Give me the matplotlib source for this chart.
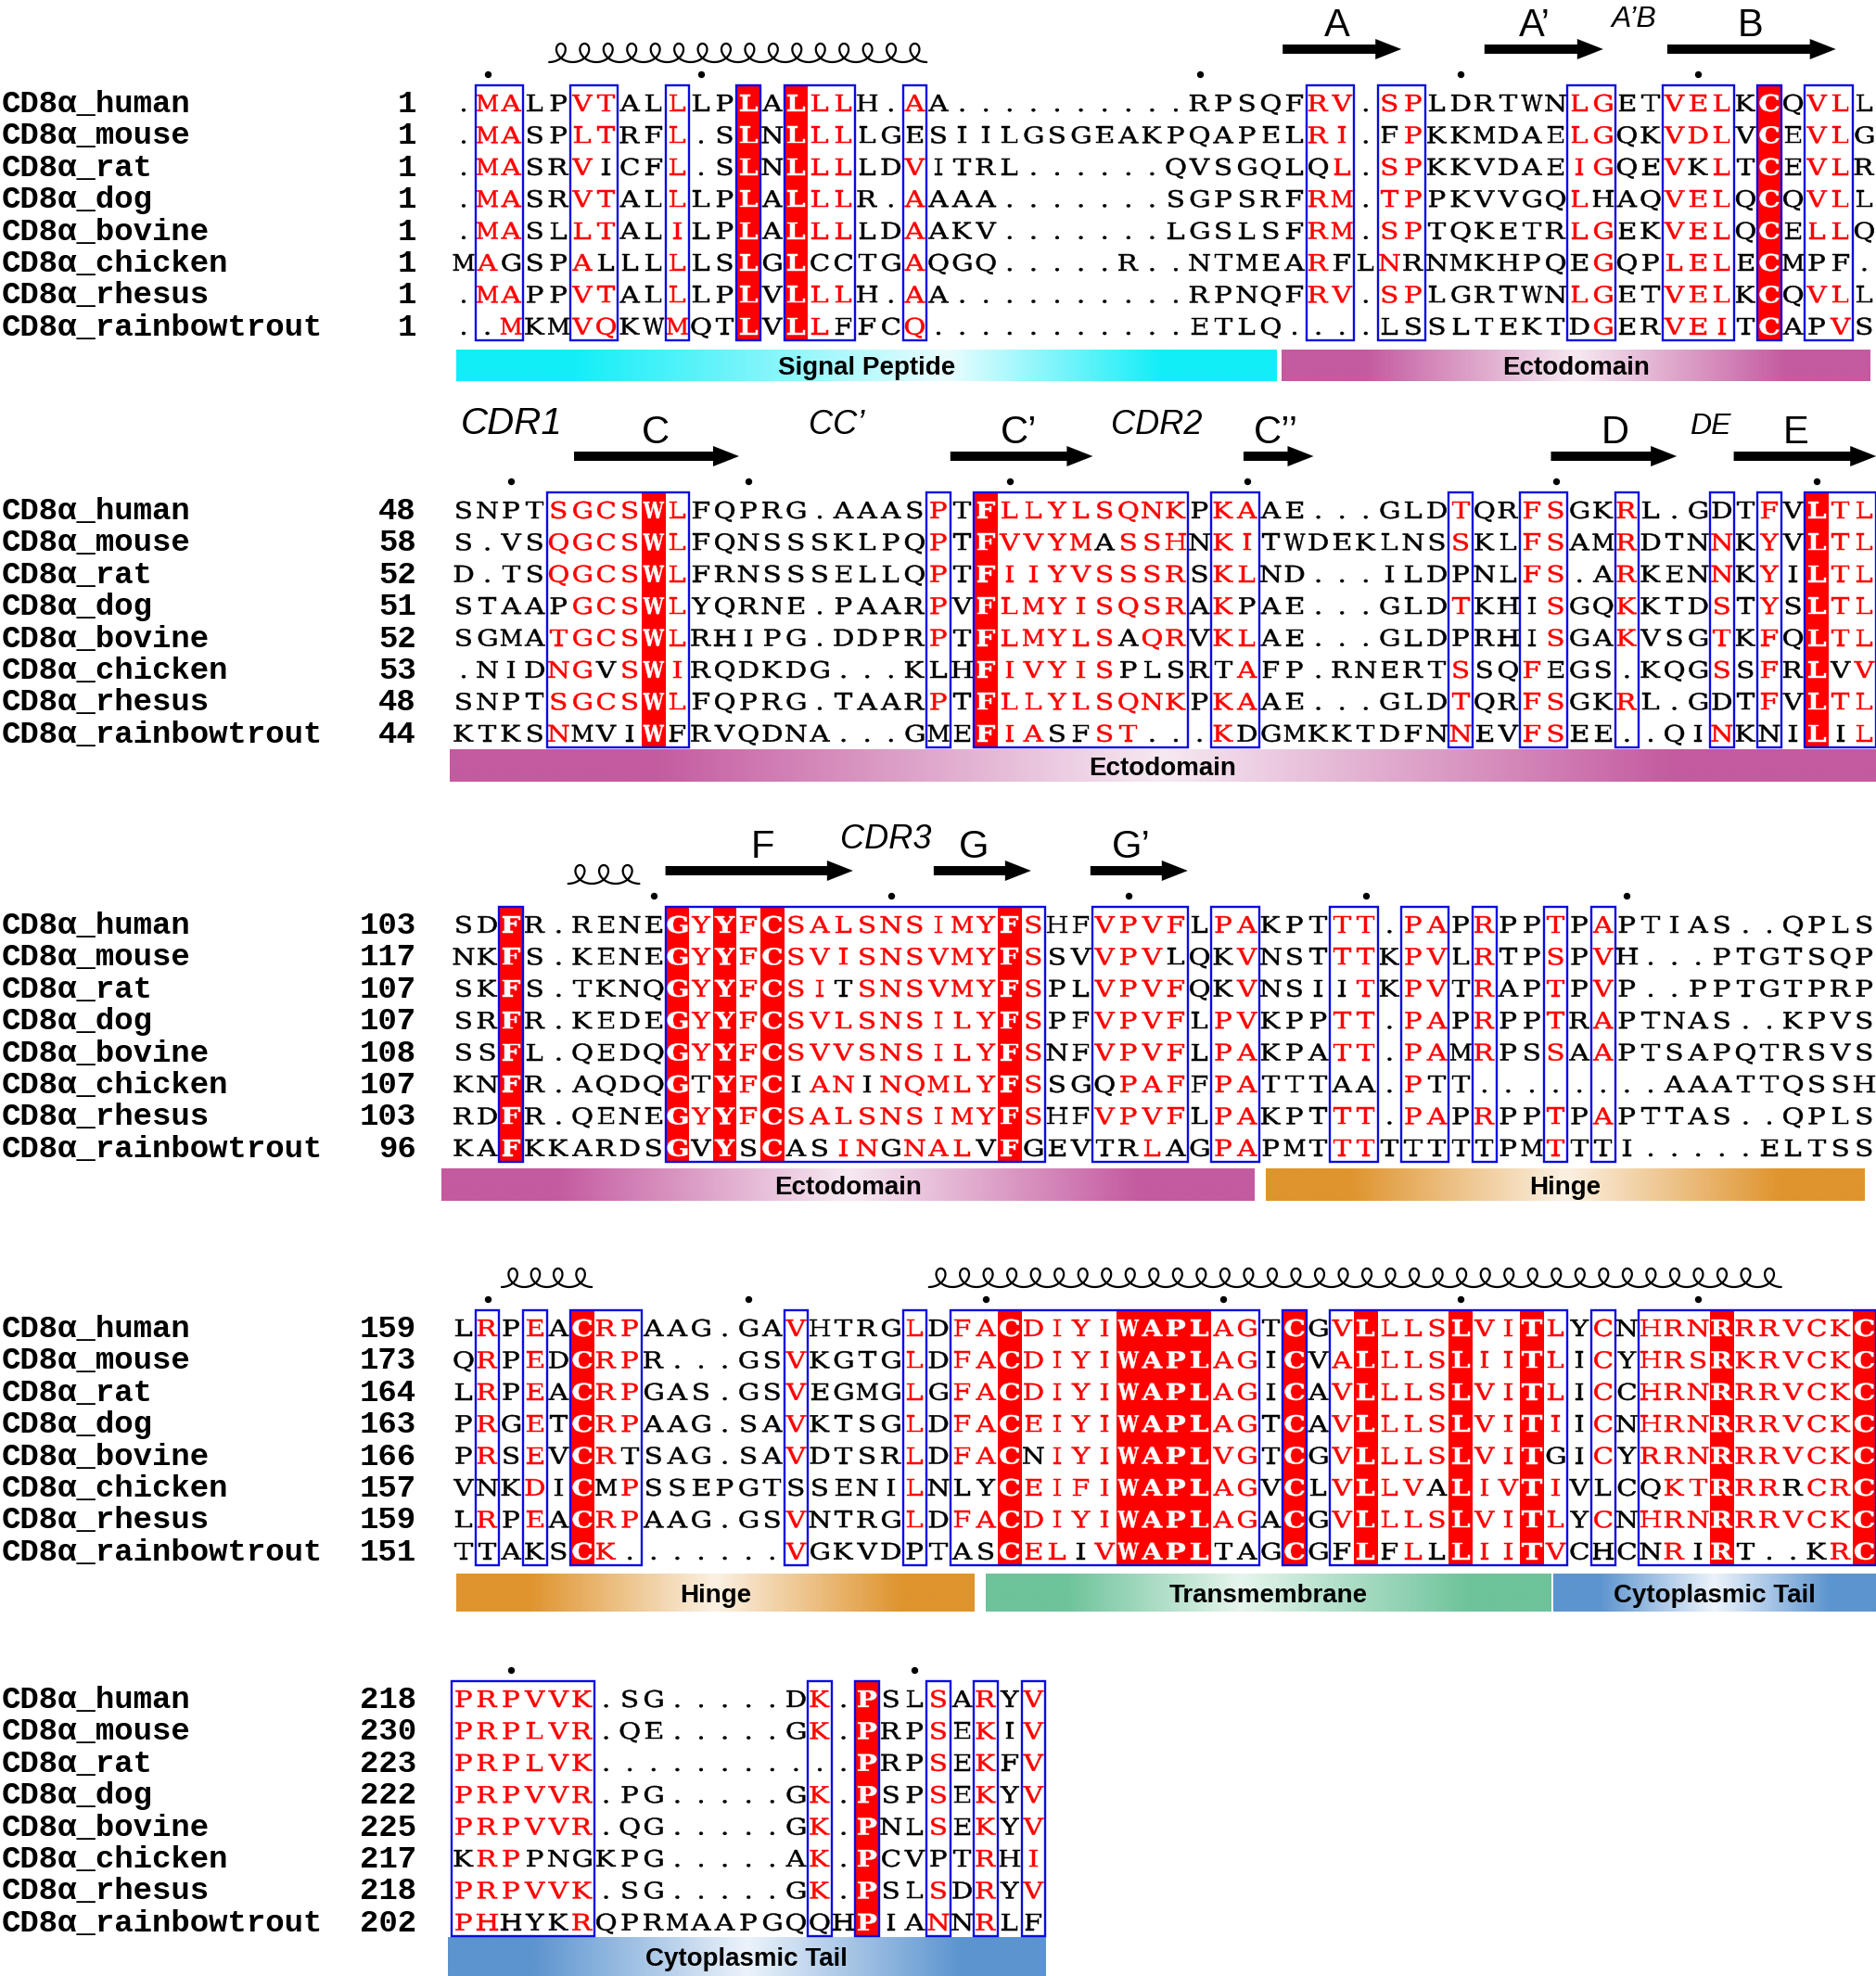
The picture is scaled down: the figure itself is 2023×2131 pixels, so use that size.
import numpy as np
import matplotlib
matplotlib.use("Agg")
import matplotlib.pyplot as plt
from matplotlib.patches import Rectangle, Polygon, PathPatch
from matplotlib.colors import to_rgb
from matplotlib.textpath import TextPath
from matplotlib.font_manager import FontProperties
from matplotlib.transforms import Affine2D

# ── alignment data ─────────────────────────────────────────────────────────
NAMES = ["CD8α_human", "CD8α_mouse", "CD8α_rat", "CD8α_dog", "CD8α_bovine",
         "CD8α_chicken", "CD8α_rhesus", "CD8α_rainbowtrout"]

BLOCK1 = [
    ".MALPVTALLLPLALLLH.AA..........RPSQFRV.SPLDRTWNLGETVELKCQVLL",
    ".MASPLTRFL.SLNLLLLGESIILGSGEAKPQAPELRI.FPKKMDAELGQKVDLVCEVLG",
    ".MASRVICFL.SLNLLLLDVITRL......QVSGQLQL.SPKKVDAEIGQEVKLTCEVLR",
    ".MASRVTALLLPLALLLR.AAAA.......SGPSRFRM.TPPKVVGQLHAQVELQCQVLL",
    ".MASLLTALILPLALLLLDAAKV.......LGSLSFRM.SPTQKETRLGEKVELQCELLQ",
    "MAGSPALLLLLSLGLCCTGAQGQ.....R..NTMEARFLNRNMKHPQEGQPLELECMPF.",
    ".MAPPVTALLLPLVLLLH.AA..........RPNQFRV.SPLGRTWNLGETVELKCQVLL",
    "..MKMVQKWMQTLVLLFFCQ...........ETLQ....LSSLTEKTDGERVEITCAPVS",
]
BLOCK2 = [
    "SNPTSGCSWLFQPRG.AAASPTFLLYLSQNKPKAAE...GLDTQRFSGKRL.GDTFVLTL",
    "S.VSQGCSWLFQNSSSKLPQPTFVVYMASSHNKITWDEKLNSSKLFSAMRDTNNKYVLTL",
    "D.TSQGCSWLFRNSSSELLQPTFIIYVSSSRSKLND...ILDPNLFS.ARKENNKYILTL",
    "STAAPGCSWLYQRNE.PAARPVFLMYISQSRAKPAE...GLDTKHISGQKKTDSTYSLTL",
    "SGMATGCSWLRHIPG.DDPRPTFLMYLSAQRVKLAE...GLDPRHISGAKVSGTKFQLTL",
    ".NIDNGVSWIRQDKDG...KLHFIVYISPLSRTAFP.RNERTSSQFEGS.KQGSSFRLVV",
    "SNPTSGCSWLFQPRG.TAARPTFLLYLSQNKPKAAE...GLDTQRFSGKRL.GDTFVLTL",
    "KTKSNMVIWFRVQDNA...GMEFIASFST...KDGMKKTDFNNEVFSEE..QINKNILIL",
]
BLOCK3 = [
    "SDFR.RENEGYYFCSALSNSIMYFSHFVPVFLPAKPTTT.PAPRPPTPAPTIAS..QPLS",
    "NKFS.KENEGYYFCSVISNSVMYFSSVVPVLQKVNSTTTKPVLRTPSPVH...PTGTSQP",
    "SKFS.TKNQGYYFCSITSNSVMYFSPLVPVFQKVNSIITKPVTRAPTPVP..PPTGTPRP",
    "SRFR.KEDEGYYFCSVLSNSILYFSPFVPVFLPVKPPTT.PAPRPPTRAPTNAS..KPVS",
    "SSFL.QEDQGYYFCSVVSNSILYFSNFVPVFLPAKPATT.PAMRPSSAAPTSAPQTRSVS",
    "KNFR.AQDQGTYFCIANINQMLYFSSGQPAFFPATTTAA.PTT........AAATTQSSH",
    "RDFR.QENEGYYFCSALSNSIMYFSHFVPVFLPAKPTTT.PAPRPPTPAPTTAS..QPLS",
    "KAFKKARDSGVYSCASINGNALVFGEVTRLAGPAPMTTTTTTTTPMTTTI.....ELTSS",
]
BLOCK4 = [
    "LRPEACRPAAG.GAVHTRGLDFACDIYIWAPLAGTCGVLLLSLVITLYCNHRNRRRVCKC",
    "QRPEDCRPR...GSVKGTGLDFACDIYIWAPLAGICVALLLSLIITLICYHRSRKRVCKC",
    "LRPEACRPGAS.GSVEGMGLGFACDIYIWAPLAGICAVLLLSLVITLICCHRNRRRVCKC",
    "PRGETCRPAAG.SAVKTSGLDFACEIYIWAPLAGTCAVLLLSLVITIICNHRNRRRVCKC",
    "PRSEVCRTSAG.SAVDTSRLDFACNIYIWAPLVGTCGVLLLSLVITGICYRRNRRRVCKC",
    "VNKDICMPSSEPGTSSENILNLYCEIFIWAPLAGVCLVLLVALIVTIVLCQKTRRRRCRC",
    "LRPEACRPAAG.GSVNTRGLDFACDIYIWAPLAGACGVLLLSLVITLYCNHRNRRRVCKC",
    "TTAKSCK.......VGKVDPTASCELIVWAPLTAGCGFLFLLLIITVCHCNRIRT..KRC",
]
BLOCK5 = [
    "PRPVVK.SG.....DK.PSLSARYV",
    "PRPLVR.QE.....GK.PRPSEKIV",
    "PRPLVK...........PRPSEKFV",
    "PRPVVR.PG.....GK.PSPSEKYV",
    "PRPVVR.QG.....GK.PNLSEKYV",
    "KRPPNGKPG.....AK.PCVPTRHI",
    "PRPVVK.SG.....GK.PSLSDRYV",
    "PHHYKRQPRMAAPGQQHPIANNRLF",
]
BLOCKS = [BLOCK1, BLOCK2, BLOCK3, BLOCK4, BLOCK5]

# framed columns (first, last) and fully conserved (red filled) columns
BOX1 = [(2, 3), (6, 7), (10, 10), (13, 13), (15, 17), (20, 20), (37, 38), (40, 41),
        (48, 49), (52, 54), (56, 56), (58, 59)]
BOX2 = [(5, 10), (21, 21), (23, 31), (33, 34), (43, 43), (46, 47), (50, 50), (54, 54),
        (56, 56), (58, 60)]
BOX3 = [(3, 3), (10, 25), (28, 31), (33, 34), (38, 39), (41, 42), (44, 44), (47, 47), (49, 49)]
BOX4 = [(2, 2), (4, 4), (6, 8), (15, 15), (20, 20), (22, 34), (36, 36), (38, 47), (49, 49), (51, 60)]
BOX5 = [(1, 6), (16, 16), (18, 18), (21, 21), (23, 23), (25, 25)]
BOXES = [BOX1, BOX2, BOX3, BOX4, BOX5]

FILL1 = [13, 15, 56]
FILL2 = [9, 23, 58]
FILL3 = [3, 10, 12, 14, 24]
FILL4 = [6, 24, 29, 30, 31, 32, 36, 39, 43, 46, 54, 60]
FILL5 = [18]
FILLS = [FILL1, FILL2, FILL3, FILL4, FILL5]

# residues printed in red inside framed columns
RED1 = {2: "MA", 3: "AM", 6: "VLA", 7: "TQ", 10: "LIM", 16: "L", 17: "L", 20: "AVQ",
        37: "R", 38: "VILM", 40: "STN", 41: "P", 48: "LI", 49: "G", 52: "VL", 53: "ED",
        54: "LI", 58: "VL", 59: "LV"}
RED2 = {5: "SQTN", 6: "G", 7: "C", 8: "S", 10: "LI", 21: "P", 24: "LVI", 25: "LVIMA",
        26: "Y", 27: "LMVI", 28: "S", 29: "QST", 30: "NSQ", 31: "KHR", 33: "K", 34: "AIL",
        43: "TSN", 46: "F", 47: "S", 50: "RK", 54: "NST", 56: "FY", 59: "T", 60: "LV"}
RED3 = {11: "Y", 13: "F", 15: "S", 16: "AVI", 17: "LIVN", 18: "SN", 19: "N", 20: "SQN",
        21: "IVMA", 22: "ML", 23: "Y", 25: "S", 28: "V", 29: "P", 30: "VAL", 31: "F",
        33: "P", 34: "AV", 38: "T", 39: "T", 41: "P", 42: "AV", 44: "R", 47: "TS", 49: "AV"}
RED4 = {2: "R", 4: "ED", 7: "RK", 8: "P", 15: "V", 20: "L", 22: "F", 23: "A", 25: "DE",
        26: "IL", 27: "YF", 28: "IV", 33: "AV", 34: "G", 38: "VA", 40: "L", 41: "LV",
        42: "S", 44: "VI", 45: "IV", 47: "LIV", 49: "C", 51: "HR", 52: "RK", 53: "NST",
        55: "RK", 56: "R", 57: "V", 58: "C", 59: "KR"}
RED5 = {1: "P", 2: "RH", 3: "P", 4: "VL", 5: "V", 6: "KR", 16: "K", 21: "SN", 23: "RK", 25: "VI"}
REDS = [RED1, RED2, RED3, RED4, RED5]

# secondary structure of the human sequence (column units)
STRANDS = [
    [("A", 35.5, 40.5, 37.8), ("A’", 44.0, 49.0, 46.1), ("B", 51.7, 58.8, 55.2)],
    [("C", 5.65, 12.6, 9.1), ("C’", 21.5, 27.5, 24.4), ("C’’", 33.85, 36.8, 35.2),
     ("D", 46.8, 52.1, 49.5), ("E", 54.5, 60.5, 57.1)],
    [("F", 9.5, 17.4, 13.6), ("G", 20.8, 24.9, 22.5), ("G’", 27.4, 31.5, 29.1)],
    [],
    [],
]
LOOP_LABELS = [
    [("A’B", 50.3, 23)],
    [("CDR1", 3.0, 29), ("CC’", 16.7, 26), ("CDR2", 30.2, 26), ("DE", 53.5, 23)],
    [("CDR3", 18.8, 26)],
    [],
    [],
]
HELICES = [
    [(4.6, 20.5, 16)],
    [],
    [(5.4, 8.4, 3)],
    [(2.6, 6.4, 4), (20.6, 56.5, 36)],
    [],
]
DOMAINS = [
    [("Signal Peptide", 0.69, 35.26, "signal"), ("Ectodomain", 35.45, 60.25, "ecto")],
    [("Ectodomain", 0.4, 60.6, "ecto")],
    [("Ectodomain", 0.06, 34.3, "ecto"), ("Hinge", 34.8, 60.0, "hinge")],
    [("Hinge", 0.7, 22.5, "hinge"), ("Transmembrane", 23.0, 46.8, "tm"),
     ("Cytoplasmic Tail", 46.9, 60.6, "cyto")],
    [("Cytoplasmic Tail", 0.34, 25.5, "cyto")],
]

# ── styling / layout ───────────────────────────────────────────────────────
DOMAIN_COLORS = {  # (edge, light, position of lightest point)
    "signal": ("#12EEF8", "#EAFDFE", 0.6),
    "ecto": ("#C45A9F", "#F6E9F2", 0.5),
    "hinge": ("#DF942E", "#FBF1E3", 0.5),
    "tm": ("#6DC39A", "#E6F5ED", 0.45),
    "cyto": ("#5C94CF", "#ECF3FB", 0.5),
}
RED = "#FF0000"
BLUE = "#0A0AE0"
NAME_FONT = ["Liberation Mono", "DejaVu Sans Mono"]
LABEL_FONT = ["Liberation Sans", "DejaVu Sans"]

W, H = 2023, 2131
X_COL1, COL_W = 500.0, 25.6
ROW0 = [111, 550, 997, 1432, 1832]
ROW_DY = 34.4
BARS_Y = [(377, 34), (808, 35), (1260, 35), (1697, 41), (2089, 42)]
GLYPH_EM = 24.5          # residue glyph size in pixels
GLYPH_SX = 1.2           # horizontal stretch of residue glyphs
GLYPH_MAXW = 22.5        # widest ink allowed inside a cell
GLYPH_CAP = 0.729 * GLYPH_EM


def colx(u):
    return X_COL1 + (u - 1) * COL_W


fig = plt.figure(figsize=(W / 100, H / 100), dpi=100)
ax = fig.add_axes([0, 0, 1, 1])
ax.axis("off")

_glyphs = {}


def residue(ch, xc, y, color, bold):
    key = (ch, bold)
    if key not in _glyphs:
        fp = FontProperties(family="DejaVu Serif", weight="bold" if bold else "normal")
        tp = TextPath((0, 0), ch, size=GLYPH_EM, prop=fp)
        ext = tp.get_extents()
        sx = min(GLYPH_SX, GLYPH_MAXW / max(ext.width, 1e-6))
        _glyphs[key] = (tp, (ext.x0 + ext.x1) / 2, sx)
    tp, cx, sx = _glyphs[key]
    tr = Affine2D().translate(-cx, 0).scale(sx, -1).translate(xc, y + GLYPH_CAP / 2)
    ax.add_patch(PathPatch(tr.transform_path(tp), facecolor=color, edgecolor=color,
                           lw=0.35, zorder=3))


def draw_helix(x0, x1, ybase, n, h=20):
    a = (x1 - x0) / n / (2 * np.pi)
    b = 2.6 * a
    t = np.linspace(0, 2 * np.pi * n, 120 * n)
    x = x0 + a * t + b * np.sin(t)
    y = ybase - h * (1 - np.cos(t)) / 2
    ax.plot(x, y, color="black", lw=1.6, solid_capstyle="round")


def draw_strand(x0, x1, yc, half=5, head=11, hl=28):
    pts = [(x0, yc - half), (x1 - hl, yc - half), (x1 - hl, yc - head), (x1, yc),
           (x1 - hl, yc + head), (x1 - hl, yc + half), (x0, yc + half)]
    ax.add_patch(Polygon(pts, closed=True, facecolor="black", edgecolor="none", zorder=3))


def draw_bar(x0, x1, y0, h, key):
    edge, light, mid = DOMAIN_COLORS[key]
    stops = [0, 0.14, mid, 0.86, 1]
    cols = [to_rgb(edge), to_rgb(edge), to_rgb(light), to_rgb(edge), to_rgb(edge)]
    t = np.linspace(0, 1, 400)
    rgb = np.stack([np.interp(t, stops, [c[k] for c in cols]) for k in range(3)], axis=-1)
    ax.imshow(rgb[None, :, :], extent=(x0, x1, y0 + h, y0), aspect="auto",
              interpolation="bilinear", zorder=1)


counts = [0] * len(NAMES)
for b, block in enumerate(BLOCKS):
    r0 = ROW0[b]
    nrow = len(block)
    box_top = r0 - 19
    box_bot = r0 + (nrow - 1) * ROW_DY + 15

    # red filled columns
    for c in FILLS[b]:
        ax.add_patch(Rectangle((colx(c) - COL_W / 2, box_top), COL_W, box_bot - box_top,
                               facecolor=RED, edgecolor="none", zorder=1))
    # frames
    for c0, c1 in BOXES[b]:
        ax.add_patch(Rectangle((colx(c0) - COL_W / 2, box_top), (c1 - c0 + 1) * COL_W,
                               box_bot - box_top, facecolor="none", edgecolor=BLUE,
                               lw=1.7, zorder=4))

    # names, numbering and residues
    for i, seq in enumerate(block):
        y = r0 + i * ROW_DY
        ax.text(2, y + 10, NAMES[i], family=NAME_FONT, weight="bold", fontsize=24.5,
                ha="left", va="baseline")
        ax.text(449, y + 10, str(counts[i] + 1), family=NAME_FONT, weight="bold",
                fontsize=24.5, ha="right", va="baseline")
        for j, ch in enumerate(seq):
            c = j + 1
            if c in FILLS[b]:
                residue(ch, colx(c), y, "white", True)
            elif ch in REDS[b].get(c, ""):
                residue(ch, colx(c), y, RED, False)
            else:
                residue(ch, colx(c), y, "black", False)

    # ruler dots every 10 residues of the first sequence
    n = counts[0]
    for j, ch in enumerate(block[0]):
        if ch != ".":
            n += 1
            if n == 1 or n % 10 == 0:
                ax.plot(colx(j + 1), r0 - 31, "o", color="black", ms=4.3)

    for i, seq in enumerate(block):
        counts[i] += sum(ch != "." for ch in seq)

    # secondary structure
    arrow_y = r0 - 58
    for label, u0, u1, ul in STRANDS[b]:
        draw_strand(colx(u0), colx(u1), arrow_y)
        ax.text(colx(ul), arrow_y - 14, label, family=LABEL_FONT, fontsize=30,
                ha="center", va="baseline")
    for label, ul, size in LOOP_LABELS[b]:
        ax.text(colx(ul), arrow_y - 24, label, family=LABEL_FONT, fontsize=size,
                style="italic", ha="center", va="baseline")
    for u0, u1, nloop in HELICES[b]:
        draw_helix(colx(u0), colx(u1), r0 - 44, nloop)

    # domain bars
    by, bh = BARS_Y[b]
    for label, u0, u1, key in DOMAINS[b]:
        x0, x1 = colx(u0), min(colx(u1), W)
        draw_bar(x0, x1, by, bh, key)
        ax.text((x0 + x1) / 2, by + bh / 2 + 10, label, family=LABEL_FONT, weight="bold",
                fontsize=20, ha="center", va="baseline", zorder=3)

ax.set_xlim(0, W)
ax.set_ylim(H, 0)
fig.savefig("out.png", dpi=100)
